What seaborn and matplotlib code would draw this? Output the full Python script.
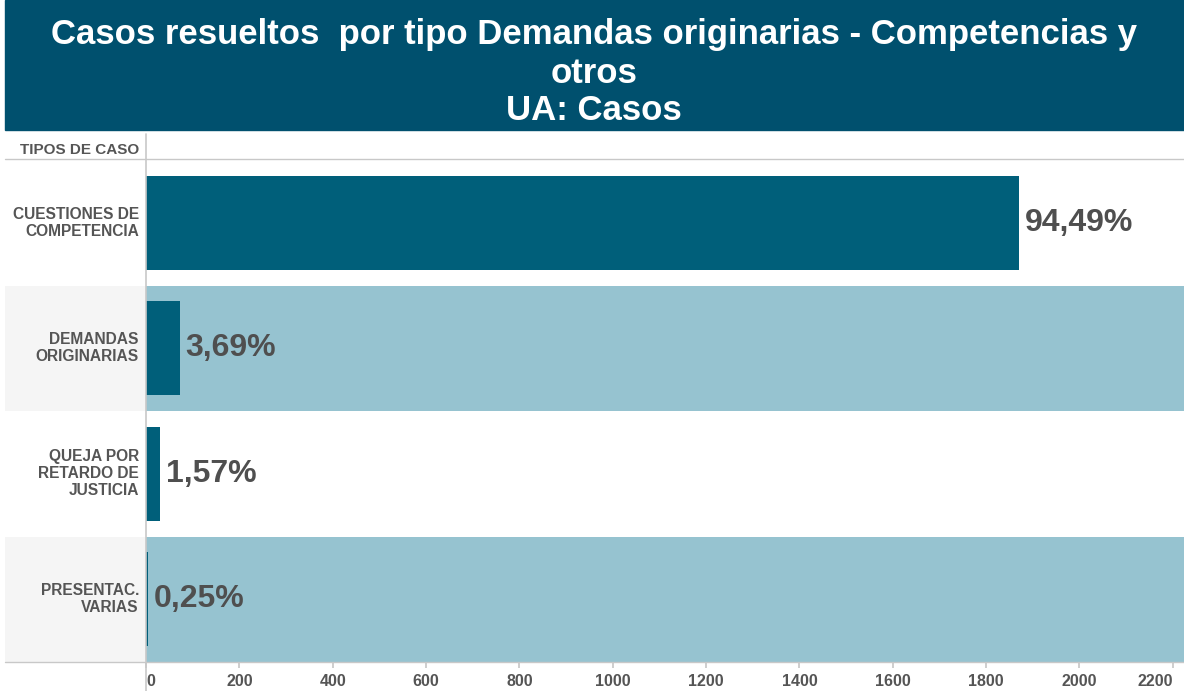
import pandas as pd
import numpy as np
import matplotlib.pyplot as plt
import seaborn as sns
from matplotlib.patches import Rectangle
from matplotlib.lines import Line2D

# datos
tipos = ["CUESTIONES DE\nCOMPETENCIA", "DEMANDAS\nORIGINARIAS",
         "QUEJA POR\nRETARDO DE\nJUSTICIA", "PRESENTAC.\nVARIAS"]
casos = [1871, 73, 31, 5]
porcentajes = ["94,49%", "3,69%", "1,57%", "0,25%"]
ticks_x = [0, 200, 400, 600, 800, 1000, 1200, 1400, 1600, 1800, 2000, 2200]
titulo = ["Casos resueltos  por tipo Demandas originarias - Competencias y",
          "otros", "UA: Casos"]

df = pd.DataFrame({"tipo": tipos, "casos": casos})

sns.set_theme(style="white")
plt.rcParams["font.family"] = ["Liberation Sans", "DejaVu Sans"]

W, H = 1184, 691
fig = plt.figure(figsize=(W / 100, H / 100), dpi=100)
fig.patch.set_facecolor("white")

gris_txt = "#555555"
linea = "#c8c8c8"

# title band
fig.patches.append(Rectangle((5 / W, (H - 130) / H), (W - 5) / W, 130 / H,
                             transform=fig.transFigure, color="#00506e", zorder=0))
for txt, yy in zip(titulo, [31, 70, 107]):
    fig.text(594 / W, 1 - yy / H, txt, color="white", fontsize=25,
             fontweight="bold", ha="center", va="center_baseline")

# main axes
ax = fig.add_axes([146 / W, 29 / H, (W - 146) / W, 502 / H])
for i in range(len(tipos)):
    if i % 2 == 1:
        ax.axhspan(i - 0.5, i + 0.5, color="#96c3d0", zorder=0, lw=0)
sns.barplot(data=df, x="casos", y="tipo", color="#005f7a", width=0.75,
            saturation=1, linewidth=0, ax=ax, zorder=2)
ax.set_xlim(0, 2224)
ax.set_ylim(len(tipos) - 0.5, -0.5)
ax.set_xlabel("")
ax.set_ylabel("")
ax.set_yticks([])
ax.set_xticks(ticks_x)
ax.set_xticklabels([str(t) for t in ticks_x], fontsize=11.5, fontweight="bold", color=gris_txt)
ax.tick_params(axis="x", bottom=True, length=4, color=linea, pad=5)
labs = ax.get_xticklabels()
labs[0].set_ha("left")
labs[-1].set_ha("right")
for s in ax.spines.values():
    s.set_visible(False)
ax.set_facecolor("white")

for i, (v, p) in enumerate(zip(casos, porcentajes)):
    ax.annotate(p, (v, i), xytext=(4, 0), textcoords="offset points",
                ha="left", va="center", fontsize=23, fontweight="bold",
                color="#4f4f4f", zorder=3)

# label column
lax = fig.add_axes([5 / W, 29 / H, 141 / W, 502 / H])
lax.set_xlim(0, 1)
lax.set_ylim(len(tipos) - 0.5, -0.5)
for i, t in enumerate(tipos):
    if i % 2 == 1:
        lax.axhspan(i - 0.5, i + 0.5, color="#f5f5f5", zorder=0, lw=0)
    lax.text(0.95, i, t, ha="right", va="center", fontsize=11.2,
             fontweight="bold", color=gris_txt, linespacing=1.15)
lax.axis("off")

fig.text(139 / W, 1 - 150 / H, "TIPOS DE CASO", ha="right", va="center",
         fontsize=11, fontweight="bold", color=gris_txt)

# grid lines
fig.add_artist(Line2D([5 / W, 1], [1 - 159 / H] * 2, color=linea, lw=1))
fig.add_artist(Line2D([5 / W, 1], [1 - 662 / H] * 2, color=linea, lw=1))
fig.add_artist(Line2D([146 / W] * 2, [0, 1 - 134 / H], color=linea, lw=1.2))

plt.savefig("out.png", dpi=100)
